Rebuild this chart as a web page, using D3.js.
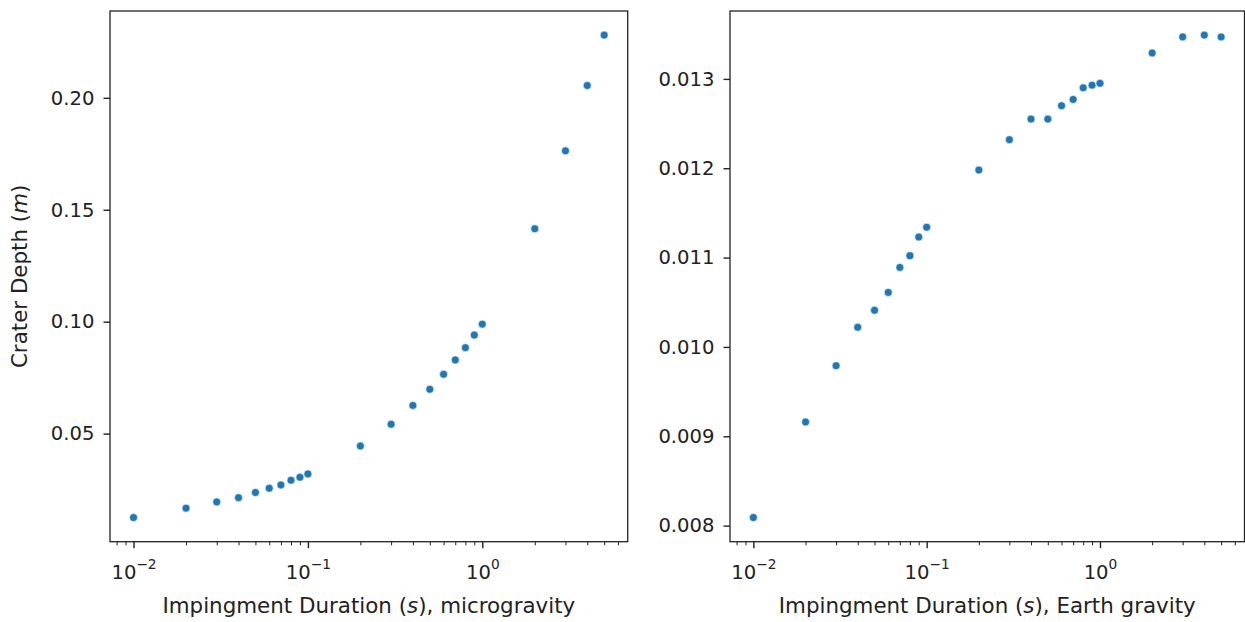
<!DOCTYPE html>
<html>
<head>
<meta charset="utf-8">
<script src="https://cdn.jsdelivr.net/npm/d3@7"></script>
<style>
  body { margin: 0; background: #fff; }
  svg { display: block; font-family: "DejaVu Sans", sans-serif; }
</style>
</head>
<body>
<script>
// impingement durations (s), same for both runs
const durations = [0.01, 0.02, 0.03, 0.04, 0.05, 0.06, 0.07, 0.08, 0.09, 0.1,
  0.2, 0.3, 0.4, 0.5, 0.6, 0.7, 0.8, 0.9, 1, 2, 3, 4, 5];

// crater depth (m) in microgravity
const depthMicro = [0.0125, 0.0167, 0.0195, 0.0214, 0.0237, 0.0256, 0.0271, 0.0292, 0.0305, 0.0320,
  0.0445, 0.0542, 0.0626, 0.0698, 0.0765, 0.0829, 0.0884, 0.0940, 0.0989,
  0.1415, 0.1763, 0.2055, 0.2280];

// crater depth (m) in Earth gravity
const depthEarth = [0.00809, 0.00916, 0.00979, 0.01022, 0.01041, 0.01061, 0.01089, 0.01102, 0.01123, 0.01134,
  0.01198, 0.01232, 0.01255, 0.01255, 0.01270, 0.01277, 0.01290, 0.01293, 0.01295,
  0.01329, 0.01347, 0.01349, 0.01347];

// tick labels
const decadeExps = [-2, -1, 0];
const microTicks = [0.05, 0.10, 0.15, 0.20];
const earthTicks = [0.008, 0.009, 0.010, 0.011, 0.012, 0.013];

const W = 1245, H = 622;
const plotTop = 11, plotBottom = 541.7;
const tickFont = 19.6, labelFont = 21.4;
const ink = "#222";

const panels = [
  { depth: depthMicro, ticks: microTicks, fmt: d3.format(".2f"), left: 110, right: 627.7,
    xlabel: "microgravity", ylabel: true },
  { depth: depthEarth, ticks: earthTicks, fmt: d3.format(".3f"), left: 730, right: 1244.5,
    xlabel: "Earth gravity", ylabel: false }
];

const svg = d3.select("body")
  .append("svg")
  .attr("width", W)
  .attr("height", H);

// 5% padding like matplotlib autoscale
function padLinear(vals) {
  const [lo, hi] = d3.extent(vals);
  const p = (hi - lo) * 0.05;
  return [lo - p, hi + p];
}
function padLog(vals) {
  const [lo, hi] = d3.extent(vals).map(Math.log10);
  const p = (hi - lo) * 0.05;
  return [Math.pow(10, lo - p), Math.pow(10, hi + p)];
}

const xDomain = padLog(durations);

// minor ticks 2..9 x 10^k inside the domain
const minorTicks = [];
for (let e = -3; e <= 1; e++) {
  for (let m = 2; m <= 9; m++) {
    const v = m * Math.pow(10, e);
    if (v >= xDomain[0] && v <= xDomain[1]) minorTicks.push(v);
  }
}

panels.forEach(p => {
  const x = d3.scaleLog().domain(xDomain).range([p.left, p.right]);
  const y = d3.scaleLinear().domain(padLinear(p.depth)).range([plotBottom, plotTop]);
  const g = svg.append("g");

  //------minor x ticks
  g.append("g")
    .attr("transform", `translate(0,${plotBottom})`)
    .call(d3.axisBottom(x).tickValues(minorTicks).tickSize(3.6).tickFormat(""))
    .call(a => a.select(".domain").remove())
    .call(a => a.selectAll(".tick line").attr("stroke", ink).attr("stroke-width", 1));

  //------major x ticks, 10^k labels
  const xAxis = g.append("g")
    .attr("transform", `translate(0,${plotBottom})`)
    .call(d3.axisBottom(x).tickValues(decadeExps.map(e => Math.pow(10, e))).tickSize(6.5).tickFormat(() => "10"));
  xAxis.select(".domain").remove();
  xAxis.selectAll(".tick line").attr("stroke", ink).attr("stroke-width", 1.4);
  xAxis.selectAll(".tick text")
    .attr("y", 37.6)
    .attr("dy", null)
    .attr("fill", ink)
    .attr("font-size", tickFont)
    .attr("font-family", "DejaVu Sans")
    .append("tspan")
    .attr("dy", -10)
    .attr("font-size", tickFont * 0.7)
    .text(d => String(Math.round(Math.log10(d))).replace("-", "\u2212"));

  //------y axis
  const yAxis = g.append("g")
    .attr("transform", `translate(${p.left},0)`)
    .call(d3.axisLeft(y).tickValues(p.ticks).tickSize(6.5).tickPadding(9).tickFormat(p.fmt));
  yAxis.select(".domain").remove();
  yAxis.selectAll(".tick line").attr("stroke", ink).attr("stroke-width", 1.4);
  yAxis.selectAll(".tick text")
    .attr("fill", ink)
    .attr("font-size", tickFont)
    .attr("font-family", "DejaVu Sans");

  //------points
  g.selectAll("circle")
    .data(durations.map((d, i) => [d, p.depth[i]]))
    .enter()
    .append("circle")
    .attr("cx", d => x(d[0]))
    .attr("cy", d => y(d[1]))
    .attr("r", 4)
    .attr("fill", "#1f77b4")
    .attr("stroke", "#fff")
    .attr("stroke-width", 0.6);

  //------frame
  g.append("rect")
    .attr("x", p.left)
    .attr("y", plotTop)
    .attr("width", p.right - p.left)
    .attr("height", plotBottom - plotTop)
    .attr("fill", "none")
    .attr("stroke", ink)
    .attr("stroke-width", 1.3);

  //------x label
  const xl = g.append("text")
    .attr("x", (p.left + p.right) / 2)
    .attr("y", 613)
    .attr("text-anchor", "middle")
    .attr("font-size", labelFont)
    .attr("fill", ink);
  xl.append("tspan").text("Impingment Duration (");
  xl.append("tspan").attr("font-style", "italic").text("s");
  xl.append("tspan").text(`), ${p.xlabel}`);

  //------y label
  if (p.ylabel) {
    const yl = g.append("text")
      .attr("transform", `translate(27,${(plotTop + plotBottom) / 2}) rotate(-90)`)
      .attr("text-anchor", "middle")
      .attr("font-size", labelFont)
      .attr("fill", ink);
    yl.append("tspan").text("Crater Depth (");
    yl.append("tspan").attr("font-style", "italic").text("m");
    yl.append("tspan").text(")");
  }
});
</script>
</body>
</html>
